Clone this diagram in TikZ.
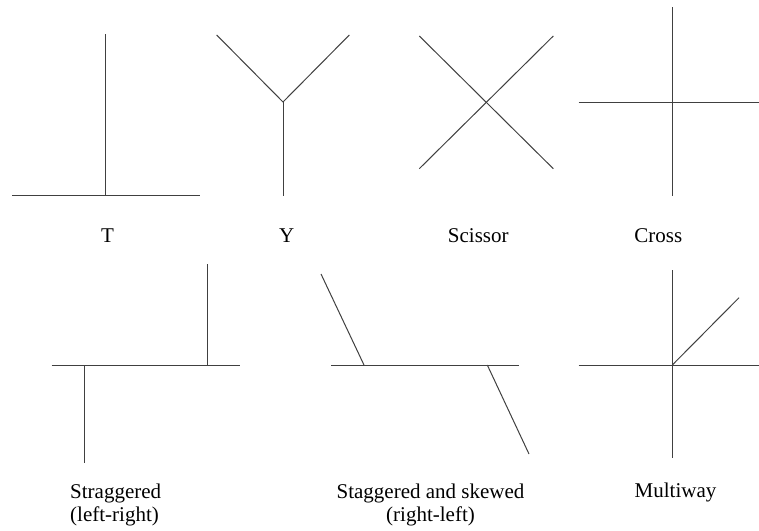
\documentclass[tikz,border=0pt]{standalone}
\usepackage{fontspec}
\setmainfont{Liberation Serif}
\begin{document}
\begin{tikzpicture}[x=1pt,y=-1pt,
  ln/.style={line width=1pt, draw=black!75},
  lbl/.style={font=\fontsize{21}{23.7}\selectfont, inner sep=0pt, anchor=base}]
\useasboundingbox (0,0) rectangle (759,530);
% T
\coordinate (tj) at (105.5,195);
\draw[ln] (12,195) -- (200,195);
\draw[ln] (tj) -- (105.5,34);
\node[lbl] (tl) at (107.5,242) {T};
% Y
\coordinate (yj) at (283,102);
\draw[ln] (216.7,35) -- (yj) -- (349.3,35);
\draw[ln] (yj) -- (283,195.5);
\node[lbl] (yl) at (286.7,242) {Y};
% Scissor
\draw[ln] (419.3,36) -- (553.3,168.7);
\draw[ln] (553.3,36) -- (419.3,168.7);
\node[lbl] (sl) at (478.3,242) {Scissor};
% Cross
\draw[ln] (672.3,7.3) -- (672.3,195.7);
\draw[ln] (578.7,102) -- (759,102);
\node[lbl] (cl) at (658.3,242) {Cross};
% Staggered
\draw[ln] (51.7,365) -- (240,365);
\draw[ln] (207.7,264.3) -- (207.7,365);
\draw[ln] (84.3,365) -- (84.3,463.3);
\node[lbl, anchor=base west, align=left] (stl) at (70,521.7) {Straggered\\(left-right)};
% Staggered and skewed
\draw[ln] (331.3,365) -- (519.3,365);
\draw[ln] (321,274) -- (364,365);
\draw[ln] (487.3,365) -- (529,454);
\node[lbl, align=center] (skl) at (430.5,521.7) {Staggered and skewed\\(right-left)};
% Multiway
\coordinate (mj) at (672.3,365);
\draw[ln] (672.3,270) -- (672.3,458.3);
\draw[ln] (578.7,365) -- (759,365);
\draw[ln] (mj) -- (739,297.7);
\node[lbl] (ml) at (675.5,497) {Multiway};
\end{tikzpicture}
\end{document}
